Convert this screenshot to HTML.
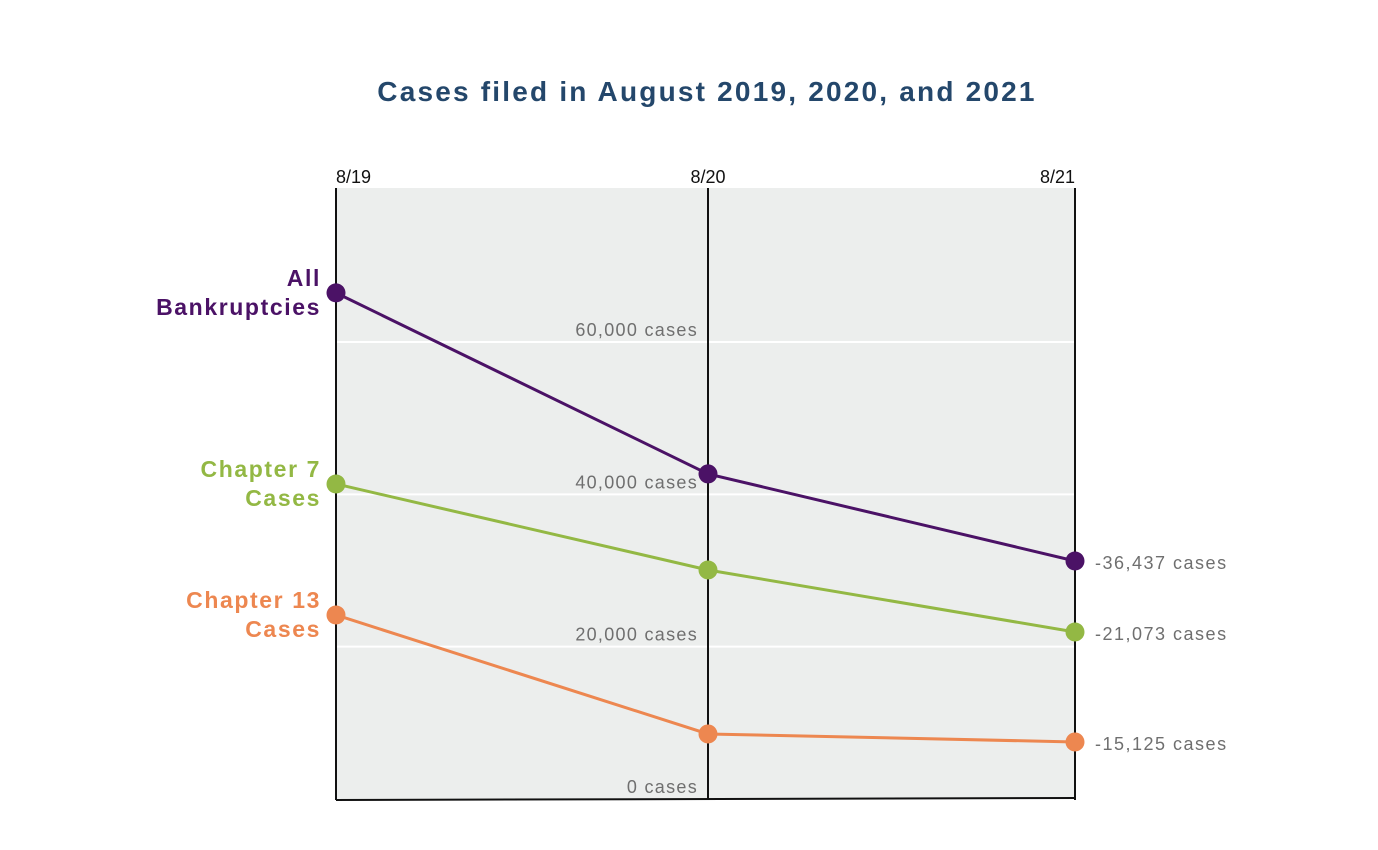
<!DOCTYPE html>
<html><head><meta charset="utf-8"><style>
html,body{margin:0;padding:0;background:#fff;}
svg{display:block;font-family:"Liberation Sans",sans-serif;}
</style></head><body>
<svg id="chart" width="1378" height="850" viewBox="0 0 1378 850">
<text x="707" y="101" text-anchor="middle" font-size="28" font-weight="bold" letter-spacing="2.2" fill="#24476b">Cases filed in August 2019, 2020, and 2021</text>
<rect x="336" y="188" width="739" height="611" fill="#eceeed"/>
<g id="grid"></g>
<g id="axes"></g>
<g id="series"></g>
</svg>
<script>
const categories = ["8/19","8/20","8/21"];
const seriesNames = ["All Bankruptcies","Chapter 7 Cases","Chapter 13 Cases"];
const allValues = [66450, 42680, 31250];
const ch7Values = [41360, 30070, 21930];
const ch13Values = [24160, 8540, 7490];
const endLabels = ["-36,437 cases","-21,073 cases","-15,125 cases"];
const yTicks = [0, 20000, 40000, 60000];
const yTickLabels = ["0 cases","20,000 cases","40,000 cases","60,000 cases"];
const colors = ["#4b1266","#93b844","#ed8750"];
const ns = "http://www.w3.org/2000/svg";
const xPos = [336, 708, 1075];
function x(i){ return xPos[i]; }
function y(v){ return 799 - v * (799-342)/60000; }
function mk(tag, attrs, parent){ const e=document.createElementNS(ns,tag); for(const k in attrs) e.setAttribute(k,attrs[k]); parent.appendChild(e); return e; }
const grid=document.getElementById('grid'), axes=document.getElementById('axes'), ser=document.getElementById('series');
yTicks.forEach((t,i)=>{
  if(t>0){ const l=mk('line',{x1:336,x2:1075,y1:y(t),y2:y(t),stroke:'#fff','stroke-width':2},grid);
    }
  const tx=mk('text',{x:698,y:y(t)-6,'text-anchor':'end','font-size':18,'letter-spacing':1.3,fill:'#6f6f6f'},grid);
  tx.textContent=yTickLabels[i];
   
});
categories.forEach((c,i)=>{
  const l=mk('line',{x1:x(i),x2:x(i),y1:188,y2:800,stroke:'#111','stroke-width':2},axes);
   
  const t=mk('text',{x:x(i),y:183,'text-anchor':i===0?'start':(i===2?'end':'middle'),'font-size':18,fill:'#111'},axes);
  t.textContent=c;
   
});
const base=mk('line',{x1:336,x2:1075,y1:800,y2:798,stroke:'#111','stroke-width':2},axes);
 
const allSeries=[allValues,ch7Values,ch13Values];
const labelLines=[["All","Bankruptcies"],["Chapter 7","Cases"],["Chapter 13","Cases"]];
allSeries.forEach((vals,s)=>{
  const pts=vals.map((v,i)=>x(i)+','+y(v)).join(' ');
  const pl=mk('polyline',{points:pts,fill:'none',stroke:colors[s],'stroke-width':3},ser);
   
  vals.forEach((v,i)=>{
    const c=mk('circle',{cx:x(i),cy:y(v),r:9.5,fill:colors[s]},ser);
     
  });
  const t=mk('text',{'text-anchor':'end','font-size':23,'font-weight':'bold','letter-spacing':1.6,fill:colors[s]},ser);
  labelLines[s].forEach((ln,k)=>{ const ts=mk('tspan',{x:321,y:y(vals[0])-7+k*29},t); ts.textContent=ln; });
   
  const e=mk('text',{x:1095,y:y(vals[2])+8,'font-size':18,'letter-spacing':1.5,fill:'#6f6f6f'},ser);
  e.textContent=endLabels[s];
   
});
</script>
</body></html>
